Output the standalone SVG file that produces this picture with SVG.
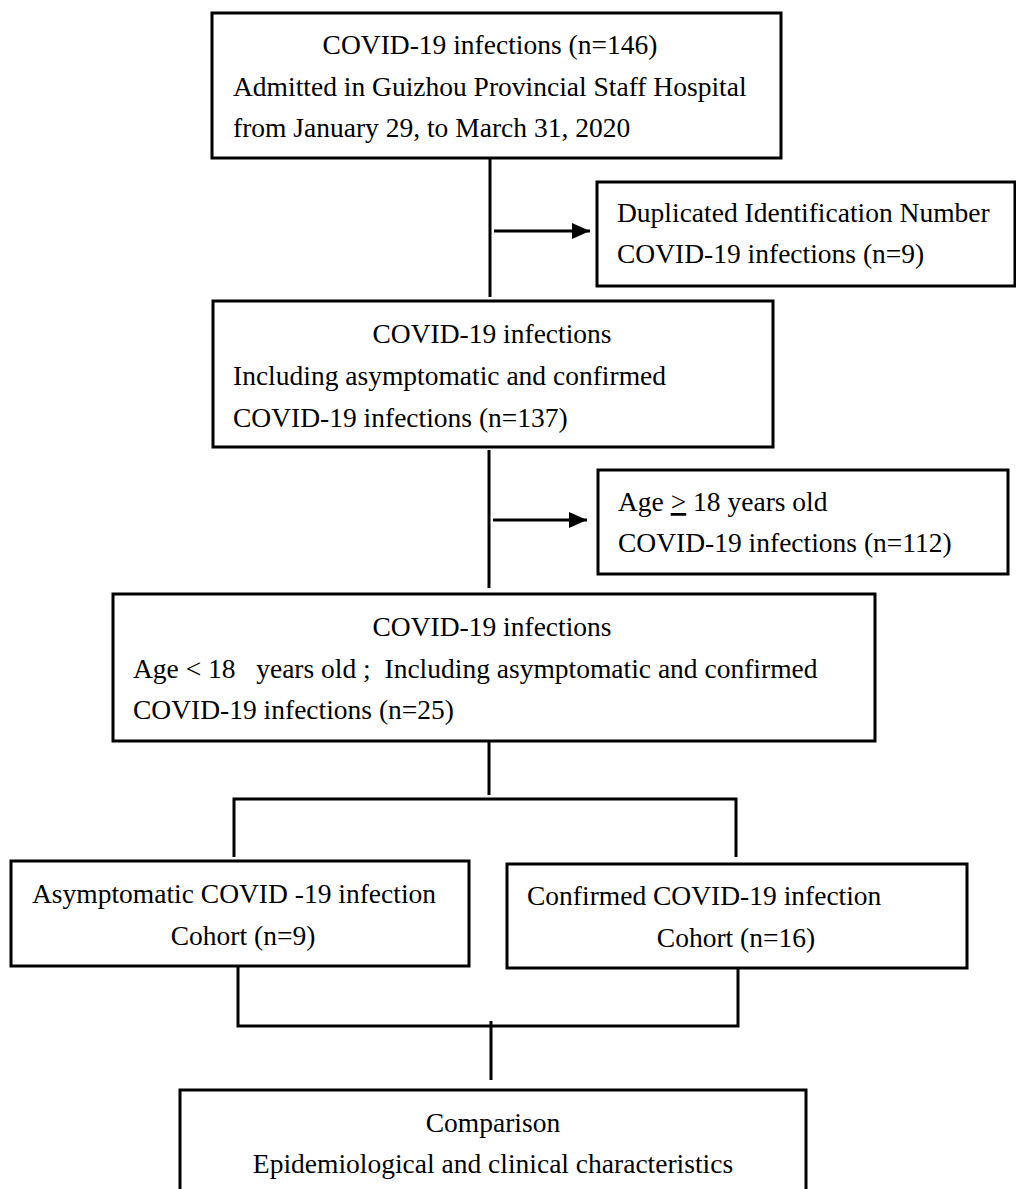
<svg xmlns="http://www.w3.org/2000/svg" width="1016" height="1189" viewBox="0 0 1016 1189">
<style>
.box{fill:#fff;stroke:#000;stroke-width:3}
.ln{stroke:#000;stroke-width:3;fill:none}
text{font-family:"Liberation Serif","Times New Roman",serif;font-size:27.5px;fill:#000}
.c{text-anchor:middle}
</style>
<defs>
<marker id="arr" viewBox="0 0 18 18" refX="18" refY="9" markerWidth="18" markerHeight="18" markerUnits="userSpaceOnUse" orient="auto">
<path d="M0,1 L18,9 L0,17 z" fill="#000"/>
</marker>
</defs>
<rect width="1016" height="1189" fill="#fff"/>
<g id="connectors">
<line class="ln" x1="490" y1="158" x2="490" y2="297"/>
<line class="ln" x1="494" y1="231" x2="590" y2="231" marker-end="url(#arr)"/>
<line class="ln" x1="489" y1="450" x2="489" y2="588"/>
<line class="ln" x1="493" y1="520" x2="587" y2="520" marker-end="url(#arr)"/>
<line class="ln" x1="489" y1="741" x2="489" y2="795"/>
<polyline class="ln" points="234,857 234,799 736,799 736,857"/>
<polyline class="ln" points="238,967 238,1026 738,1026 738,968"/>
<line class="ln" x1="491" y1="1021" x2="491" y2="1080"/>
</g>
<g id="n1">
<rect class="box" x="212" y="13" width="569" height="145"/>
<text class="c" x="490" y="54">COVID-19 infections (n=146)</text>
<text x="233" y="96">Admitted in Guizhou Provincial Staff Hospital</text>
<text x="233" y="137">from January 29, to March 31, 2020</text>
</g>
<g id="n2">
<rect class="box" x="597" y="182" width="418" height="104"/>
<text x="617" y="222">Duplicated Identification Number</text>
<text x="617" y="263">COVID-19 infections (n=9)</text>
</g>
<g id="n3">
<rect class="box" x="213" y="301" width="560" height="146"/>
<text class="c" x="492" y="343">COVID-19 infections</text>
<text x="233" y="385">Including asymptomatic and confirmed</text>
<text x="233" y="427">COVID-19 infections (n=137)</text>
</g>
<g id="n4">
<rect class="box" x="598" y="470" width="410" height="104"/>
<text x="618" y="511">Age <tspan text-decoration="underline">&gt;</tspan> 18 years old</text>
<text x="618" y="552">COVID-19 infections (n=112)</text>
</g>
<g id="n5">
<rect class="box" x="113" y="594" width="762" height="147"/>
<text class="c" x="492" y="636">COVID-19 infections</text>
<text x="133" y="678" xml:space="preserve">Age &lt; 18   years old ;  Including asymptomatic and confirmed</text>
<text x="133" y="719">COVID-19 infections (n=25)</text>
</g>
<g id="n6">
<rect class="box" x="11" y="861" width="458" height="105"/>
<text x="32" y="903">Asymptomatic COVID -19 infection</text>
<text class="c" x="243" y="945">Cohort (n=9)</text>
</g>
<g id="n7">
<rect class="box" x="507" y="864" width="460" height="104"/>
<text x="527" y="905">Confirmed  COVID-19 infection</text>
<text class="c" x="736" y="947">Cohort (n=16)</text>
</g>
<g id="n8">
<rect class="box" x="180" y="1090" width="626" height="110"/>
<text class="c" x="493" y="1132">Comparison</text>
<text class="c" x="493" y="1173">Epidemiological and clinical characteristics</text>
</g>
</svg>
